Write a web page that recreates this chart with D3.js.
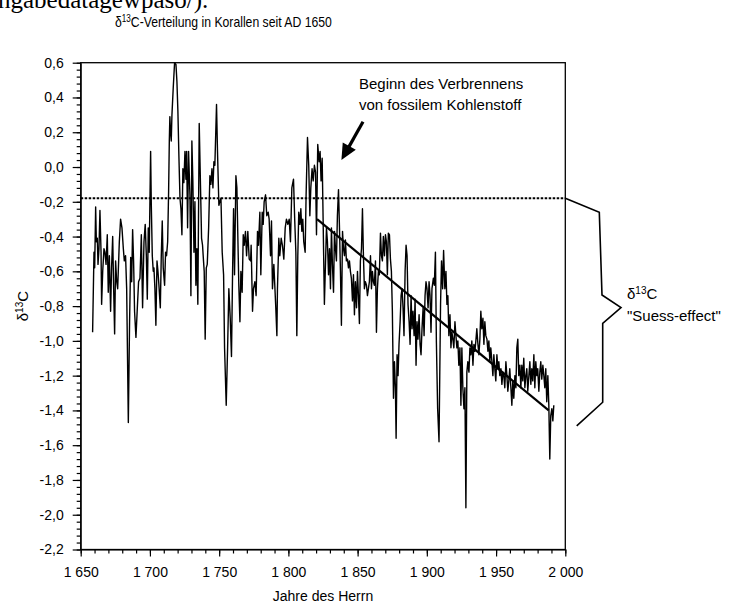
<!DOCTYPE html>
<html>
<head>
<meta charset="utf-8">
<script src="https://cdn.jsdelivr.net/npm/d3@7"></script>
<style>
  body { margin: 0; background: #fff; }
  text { font-family: "Liberation Sans", Arial, sans-serif; fill: #000; }
</style>
</head>
<body>
<svg id="chart" width="733" height="605"></svg>
<script>
// d13C in corals, years AD
const years = [
  1658.6,1659.6,1660.1,1660.8,1661.3,1662.0,1662.5,1663.2,1663.9,1664.7,
  1665.1,1665.9,1666.8,1667.5,1668.3,1669.2,1669.9,1670.7,1671.6,1672.3,
  1673.1,1673.8,1674.5,1675.2,1676.0,1676.7,1677.9,1678.8,1679.8,1680.8,
  1681.5,1682.4,1683.2,1684.4,1685.3,1686.1,1686.8,1687.5,1688.2,1688.9,
  1689.9,1690.9,1691.8,1692.8,1693.8,1694.7,1695.7,1696.6,1697.4,1698.1,
  1698.8,1699.5,1700.5,1701.0,1701.7,1702.4,1702.9,1703.6,1704.3,1705.1,
  1705.8,1706.5,1707.5,1708.2,1708.9,1709.6,1710.6,1711.3,1712.0,1712.8,
  1713.5,1714.0,1714.4,1714.9,1715.4,1715.9,1716.8,1717.8,1718.8,1719.5,
  1720.2,1720.9,1721.7,1722.4,1723.1,1723.8,1724.5,1725.3,1726.0,1726.5,
  1727.2,1727.9,1728.9,1729.6,1730.3,1731.0,1731.8,1732.5,1733.2,1733.9,
  1734.6,1735.6,
  1737.3,1738.0,1738.7,1739.2,1739.9,1740.7,1741.4,1742.4,1743.3,1744.0,
  1744.8,1745.5,1746.2,1746.9,1748.1,1748.8,1749.8,1750.5,1751.3,1752.2,
  1753.2,1753.9,1755.1,1756.1,1757.0,1758.0,1758.9,1759.7,1760.4,1761.1,
  1762.1,1762.8,1763.8,1764.2,1765.0,1765.7,1766.6,1767.4,1768.1,1769.0,
  1769.8,1770.7,1771.7,1772.7,1773.1,1774.1,1774.8,1775.8,1776.7,1777.7,
  1778.4,1779.4,1780.1,1781.1,1781.8,1782.5,1783.5,1784.4,1785.4,1786.1,
  1787.1,1787.8,1788.5,1789.5,1790.9,1791.7,1792.1,1793.1,1793.8,1794.8,
  1795.7,1796.7,1797.7,1798.6,1799.6,1800.6,1801.5,1802.5,1803.7,1804.6,
  1805.4,1806.1,1806.8,1807.5,1808.3,1809.0,1809.7,1810.4,1811.1,1812.1,
  1812.8,1813.8,1814.7,1815.5,1816.2,1817.1,1817.9,1818.8,1819.6,1820.3,
  1821.2,1822.2,1822.9,1823.6,1824.4,1825.1,1826.0,
  1827.5,1828.2,1829.0,1829.7,1830.4,1831.1,1831.8,1832.6,1833.3,1834.0,
  1834.7,1835.4,1836.2,1836.9,1837.6,1838.3,1839.1,1839.8,1840.5,1841.2,
  1841.9,1842.7,1843.4,1844.1,1844.8,1845.5,1846.3,1847.0,1847.7,1848.4,
  1849.2,1849.9,1850.6,1851.3,1852.0,1852.8,1853.5,1854.2,1854.9,1855.6,
  1856.4,1857.1,1857.8,1858.5,1859.3,1860.0,1860.7,1861.4,1862.1,1862.9,
  1863.6,1864.3,1865.0,1865.7,1866.5,1867.2,1867.9,1868.6,1869.4,1870.1,
  1870.8,1871.5,1872.2,1873.0,1873.7,1874.4,1875.1,1875.9,1876.6,1877.3,
  1877.8,1878.5,1879.2,1879.9,1880.7,1881.4,1882.1,1882.8,1883.5,1884.3,
  1885.0,1885.7,1886.4,1887.2,1887.9,1888.6,1889.3,1890.0,1890.8,1891.5,
  1892.2,1892.9,1893.6,1894.4,1895.1,1895.8,1896.5,1897.3,1898.0,1898.7,
  1899.4,1900.1,1900.9,1901.6,1902.3,1903.0,1903.7,1904.7,1905.4,1906.2,
  1906.9,1907.8,1908.8,
  1909.9,1910.6,1911.4,1912.1,1913.0,1913.8,1914.5,1915.2,1915.9,1916.7,
  1917.4,1918.1,1918.8,1919.5,1920.3,1921.0,1921.7,1922.4,1923.1,1923.9,
  1924.6,1925.3,1926.0,1926.8,1927.5,1928.2,1928.9,1929.6,1930.4,1931.1,
  1931.8,1932.5,1933.3,1934.0,1934.7,1935.4,1936.1,1936.9,1937.6,1938.3,
  1939.0,1939.7,1940.5,1941.2,1941.9,1942.6,1943.4,1944.1,1944.8,1945.5,
  1946.2,1947.0,1947.7,1948.4,1949.1,1949.8,1950.6,1951.3,1952.0,1952.7,
  1953.5,1954.2,1954.9,1955.6,1956.3,1957.1,1957.8,1958.5,1959.2,1959.9,
  1960.7,1961.4,1962.1,1962.8,1963.6,1964.3,1965.0,1965.7,1966.4,1967.2,
  1967.9,1968.6,1969.3,1970.0,1970.8,1971.5,1972.2,1972.9,1973.7,1974.4,
  1975.1,1975.8,1976.5,1977.3,1978.0,1978.7,1979.4,1980.1,1980.9,1981.6,
  1982.3,1983.0,1983.8,1984.5,1985.2,1985.9,1986.6,1987.4,1988.1,1988.8,
  1989.5,1990.3,1991.0,1991.7
];

const d13c = [
  -0.95,-0.49,-0.58,-0.23,-0.43,-0.41,-0.56,-0.47,-0.25,-0.49,
  -0.79,-0.60,-0.47,-0.49,-0.56,-0.39,-0.72,-0.51,-0.83,-0.58,
  -0.40,-0.70,-0.96,-0.54,-0.66,-0.70,-0.43,-0.30,-0.35,-0.47,
  -0.54,-0.51,-0.70,-1.47,-0.89,-0.52,-0.66,-0.36,-0.54,-0.83,
  -0.98,-0.81,-0.66,-0.64,-0.39,-0.81,-0.43,-0.33,-0.51,-0.76,
  -0.35,-0.49, 0.09,-0.22,-0.51,-0.60,-0.58,-0.70,-0.91,-0.54,
  -0.60,-0.68,-0.81,-0.51,-0.31,-0.58,-0.68,-0.49,-0.51,-0.43,
  -0.14, 0.15, 0.29, 0.20, 0.15, 0.30, 0.45, 0.60, 0.59, 0.49,
   0.32, 0.07,-0.18,-0.24,-0.39,-0.01,-0.09, 0.09,-0.07, 0.09,
  -0.35, 0.09,-0.16,-0.74, 0.15,-0.08,-0.49,-0.20,-0.68,-0.47,
  -0.79, 0.25,
  -0.41,-0.45,-0.54,-0.60,-0.99,-0.58,-0.56,-0.35,-0.05,-0.10,
  -0.01,-0.12, 0.03, 0.01, 0.36, 0.09,-0.22,-0.20,-0.18,-0.49,
  -0.62,-1.04,-1.37,-1.04,-0.70,-0.87,-1.09,-0.60,-0.24,-0.62,
  -0.05,-0.12,-0.52,-0.68,-0.89,-0.60,-0.72,-0.39,-0.45,-0.37,
  -0.51,-0.37,-0.53,-0.54,-0.45,-0.83,-0.70,-0.66,-0.74,-0.37,
  -0.45,-0.26,-0.62,-0.26,-0.33,-0.20,-0.16,-0.28,-0.26,-0.30,
  -0.51,-0.31,-0.70,-0.56,-0.81,-0.97,-0.70,-0.41,-0.51,-0.41,
  -0.45,-0.53,-0.35,-0.30,-0.33,-0.30,-0.43,-0.12,-0.07,-0.31,
  -0.49,-0.97,-0.51,-0.26,-0.33,-0.24,-0.37,-0.30,-0.43,-0.49,
  -0.16, 0.17, 0.01,-0.28,-0.12,-0.01,-0.08, 0.01,-0.03,-0.39,
   0.13, 0.03, 0.09,-0.08, 0.05,-0.31,-0.79,
  -0.35,-0.43,-0.62,-0.47,-0.70,-0.35,-0.56,-0.72,-0.37,-0.47,
  -0.54,-0.28,-0.13,-0.35,-0.60,-0.91,-0.37,-0.47,-0.51,-0.42,
  -0.54,-0.53,-0.58,-0.54,-0.60,-0.64,-0.77,-0.62,-0.85,-0.66,
  -0.81,-0.60,-0.74,-0.90,-0.54,-0.47,-0.24,-0.51,-0.70,-0.66,
  -0.68,-0.74,-0.70,-0.66,-0.51,-0.70,-0.60,-0.66,-0.68,-0.54,
  -0.95,-0.70,-0.60,-0.62,-0.38,-0.51,-0.54,-0.40,-0.51,-0.39,
  -0.43,-0.62,-0.38,-0.39,-0.53,-0.60,-0.83,-1.33,-1.12,-1.27,
  -1.56,-1.08,-1.20,-1.02,-0.89,-0.74,-0.70,-0.81,-0.97,-0.60,
  -0.45,-0.51,-0.79,-0.89,-1.02,-0.74,-0.93,-0.83,-0.97,-0.76,
  -1.14,-0.89,-0.99,-0.85,-1.02,-1.08,-0.93,-0.81,-0.97,-0.74,
  -0.66,-0.70,-0.81,-0.66,-0.74,-0.95,-0.70,-0.64,-0.68,-0.49,
  -1.01,-1.39,-1.58,
  -0.79,-0.54,-0.70,-0.48,-0.70,-0.60,-0.79,-0.74,-0.97,-0.85,
  -1.04,-0.95,-0.99,-1.04,-0.89,-0.97,-1.04,-1.00,-1.14,-1.04,
  -1.37,-1.04,-1.27,-1.39,-1.27,-1.96,-1.18,-1.12,-1.18,-1.04,
  -1.08,-1.00,-1.14,-1.02,-1.06,-1.00,-0.93,-1.02,-1.08,-0.99,
  -0.83,-0.93,-0.87,-1.02,-0.89,-0.97,-0.99,-1.06,-1.00,-1.12,
  -1.04,-1.12,-1.20,-1.08,-1.16,-1.23,-1.08,-1.16,-1.12,-1.20,
  -1.16,-1.25,-1.18,-1.20,-1.27,-1.12,-1.20,-1.29,-1.23,-1.16,
  -1.27,-1.37,-1.23,-1.33,-1.20,-1.27,-1.04,-0.99,-1.20,-1.14,
  -1.27,-1.14,-1.23,-1.10,-1.27,-1.20,-1.16,-1.29,-1.20,-1.12,
  -1.25,-1.16,-1.23,-1.08,-1.27,-1.12,-1.20,-1.16,-1.29,-1.18,
  -1.12,-1.22,-1.14,-1.20,-1.27,-1.16,-1.35,-1.20,-1.37,-1.68,
  -1.43,-1.39,-1.46,-1.37
];

// reference level (dotted) and Suess-effect trend
const refLevel = -0.18;
const trendYears = [1820.7, 1988];
const trendValues = [-0.30, -1.40];

// axis ticks
const yTicks = d3.range(15).map(i => -2.2 + i * 0.2);
const yMinor = d3.range(71).map(i => -2.2 + i * 0.04);
const xTicks = [1650, 1700, 1750, 1800, 1850, 1900, 1950, 2000];
const xMinor = d3.range(1650, 2001, 10);

// annotations (in data units)
const arrowTail = [1853.9, 0.26];
const arrowTip = [1838.3, 0.04];
// brace: [pixels right of the plot edge, value]
const braceOffsets = [0, 34, 36.7, 55.7, 37.4, 37.4, 11.4];
const braceValues = [refLevel, -0.26, -0.736, -0.809, -0.899, -1.353, -1.489];

const margin = { left: 80.7, top: 62.7 };
const width = 484.6, height = 486.8;

const de = d3.formatLocale({
    decimal: ",",
    thousands: " ",
    grouping: [3],
    currency: ["", " €"],
    minus: "-"
});

const svg = d3.select("#chart");

// cut-off line of the surrounding document
svg.append("text")
    .attr("x", -2)
    .attr("y", 8)
    .style("font-family", "'Liberation Serif', 'Times New Roman', serif")
    .attr("font-size", "25px")
    .text("ngabedatagewpaso/).");

// title (narrow face in the original)
const title = svg.append("text")
    .attr("font-size", "15px");
title.append("tspan").text("δ");
title.append("tspan").attr("font-size", "10px").attr("dy", -5).text("13");
title.append("tspan").attr("dy", 5).text("C-Verteilung in Korallen seit AD 1650");
const tw = title.node().getComputedTextLength();
title.attr("transform", `translate(115,26.5) scale(${217 / tw},1)`);

const g = svg.append("g")
    .attr("transform", `translate(${margin.left},${margin.top})`);

const x = d3.scaleLinear().domain([1650, 2000]).range([0, width]);
const y = d3.scaleLinear().domain([-2.2, 0.6]).range([height, 0]);

// minor ticks
g.append("g")
    .attr("transform", `translate(0,${height})`)
    .call(d3.axisBottom(x).tickValues(xMinor).tickSize(4).tickSizeOuter(0).tickFormat(""))
    .call(a => a.select(".domain").remove());
g.append("g")
    .call(d3.axisLeft(y).tickValues(yMinor).tickSize(4).tickSizeOuter(0).tickFormat(""))
    .call(a => a.select(".domain").remove());

// major axes
g.append("g")
    .attr("transform", `translate(0,${height})`)
    .call(d3.axisBottom(x).tickValues(xTicks).tickSize(7).tickSizeOuter(0)
        .tickPadding(11).tickFormat(de.format(",d")));
g.append("g")
    .call(d3.axisLeft(y).tickValues(yTicks).tickSize(8).tickSizeOuter(0)
        .tickPadding(9).tickFormat(de.format(".1f")));

g.selectAll(".tick line").attr("stroke", "#000").attr("stroke-width", 1.2);
g.selectAll(".tick text").attr("font-size", "14px").attr("fill", "#000")
    .style("font-family", "'Liberation Sans', Arial, sans-serif");

// frame
g.append("rect")
    .attr("width", width)
    .attr("height", height)
    .attr("fill", "none")
    .attr("stroke", "#000")
    .attr("stroke-width", 1.3);

// reference level
g.append("line")
    .attr("x1", 0)
    .attr("x2", width)
    .attr("y1", y(refLevel))
    .attr("y2", y(refLevel))
    .attr("stroke", "#000")
    .attr("stroke-width", 2)
    .attr("stroke-dasharray", "2.5,1.5");

// coral series
const series = d3.zip(years, d13c);
g.append("path")
    .datum(series)
    .attr("fill", "none")
    .attr("stroke", "#000")
    .attr("stroke-width", 1.4)
    .attr("stroke-linejoin", "round")
    .attr("d", d3.line().x(d => x(d[0])).y(d => y(d[1])));

// trend
g.append("line")
    .attr("x1", x(trendYears[0]))
    .attr("y1", y(trendValues[0]))
    .attr("x2", x(trendYears[1]))
    .attr("y2", y(trendValues[1]))
    .attr("stroke", "#000")
    .attr("stroke-width", 2.2);

// arrow
const tx = x(arrowTail[0]), ty = y(arrowTail[1]);
const hx = x(arrowTip[0]), hy = y(arrowTip[1]);
const len = Math.hypot(hx - tx, hy - ty);
const ux = (hx - tx) / len, uy = (hy - ty) / len;
const headLen = 16, headHalf = 7.5;
const bx = hx - ux * headLen, by = hy - uy * headLen;
g.append("line")
    .attr("x1", tx).attr("y1", ty)
    .attr("x2", bx + ux * 2).attr("y2", by + uy * 2)
    .attr("stroke", "#000")
    .attr("stroke-width", 3.2);
g.append("path")
    .attr("d", `M${hx},${hy}L${bx - uy * headHalf},${by + ux * headHalf}L${bx + uy * headHalf},${by - ux * headHalf}Z`)
    .attr("fill", "#000");

// brace
g.append("path")
    .datum(d3.zip(braceOffsets, braceValues))
    .attr("fill", "none")
    .attr("stroke", "#000")
    .attr("stroke-width", 1.6)
    .attr("d", d3.line().x(d => width + d[0]).y(d => y(d[1])));

// annotation texts
svg.append("text").attr("x", 359).attr("y", 89).attr("font-size", "15px")
    .text("Beginn des Verbrennens");
svg.append("text").attr("x", 359).attr("y", 110).attr("font-size", "15px")
    .text("von fossilem Kohlenstoff");

const suess = svg.append("text").attr("x", 627).attr("y", 299).attr("font-size", "15px");
suess.append("tspan").text("δ");
suess.append("tspan").attr("font-size", "10px").attr("dy", -5).text("13");
suess.append("tspan").attr("dy", 5).text("C");
svg.append("text").attr("x", 627).attr("y", 321).attr("font-size", "15px")
    .text("\"Suess-effect\"");

// axis titles
svg.append("text")
    .attr("x", margin.left + width / 2)
    .attr("y", 601)
    .attr("text-anchor", "middle")
    .attr("font-size", "14px")
    .text("Jahre des Herrn");

const ylab = svg.append("text")
    .attr("transform", `translate(28,${margin.top + height / 2}) rotate(-90)`)
    .attr("text-anchor", "middle")
    .attr("font-size", "15px");
ylab.append("tspan").text("δ");
ylab.append("tspan").attr("font-size", "10px").attr("dy", -5).text("13");
ylab.append("tspan").attr("dy", 5).text("C");
</script>
</body>
</html>
